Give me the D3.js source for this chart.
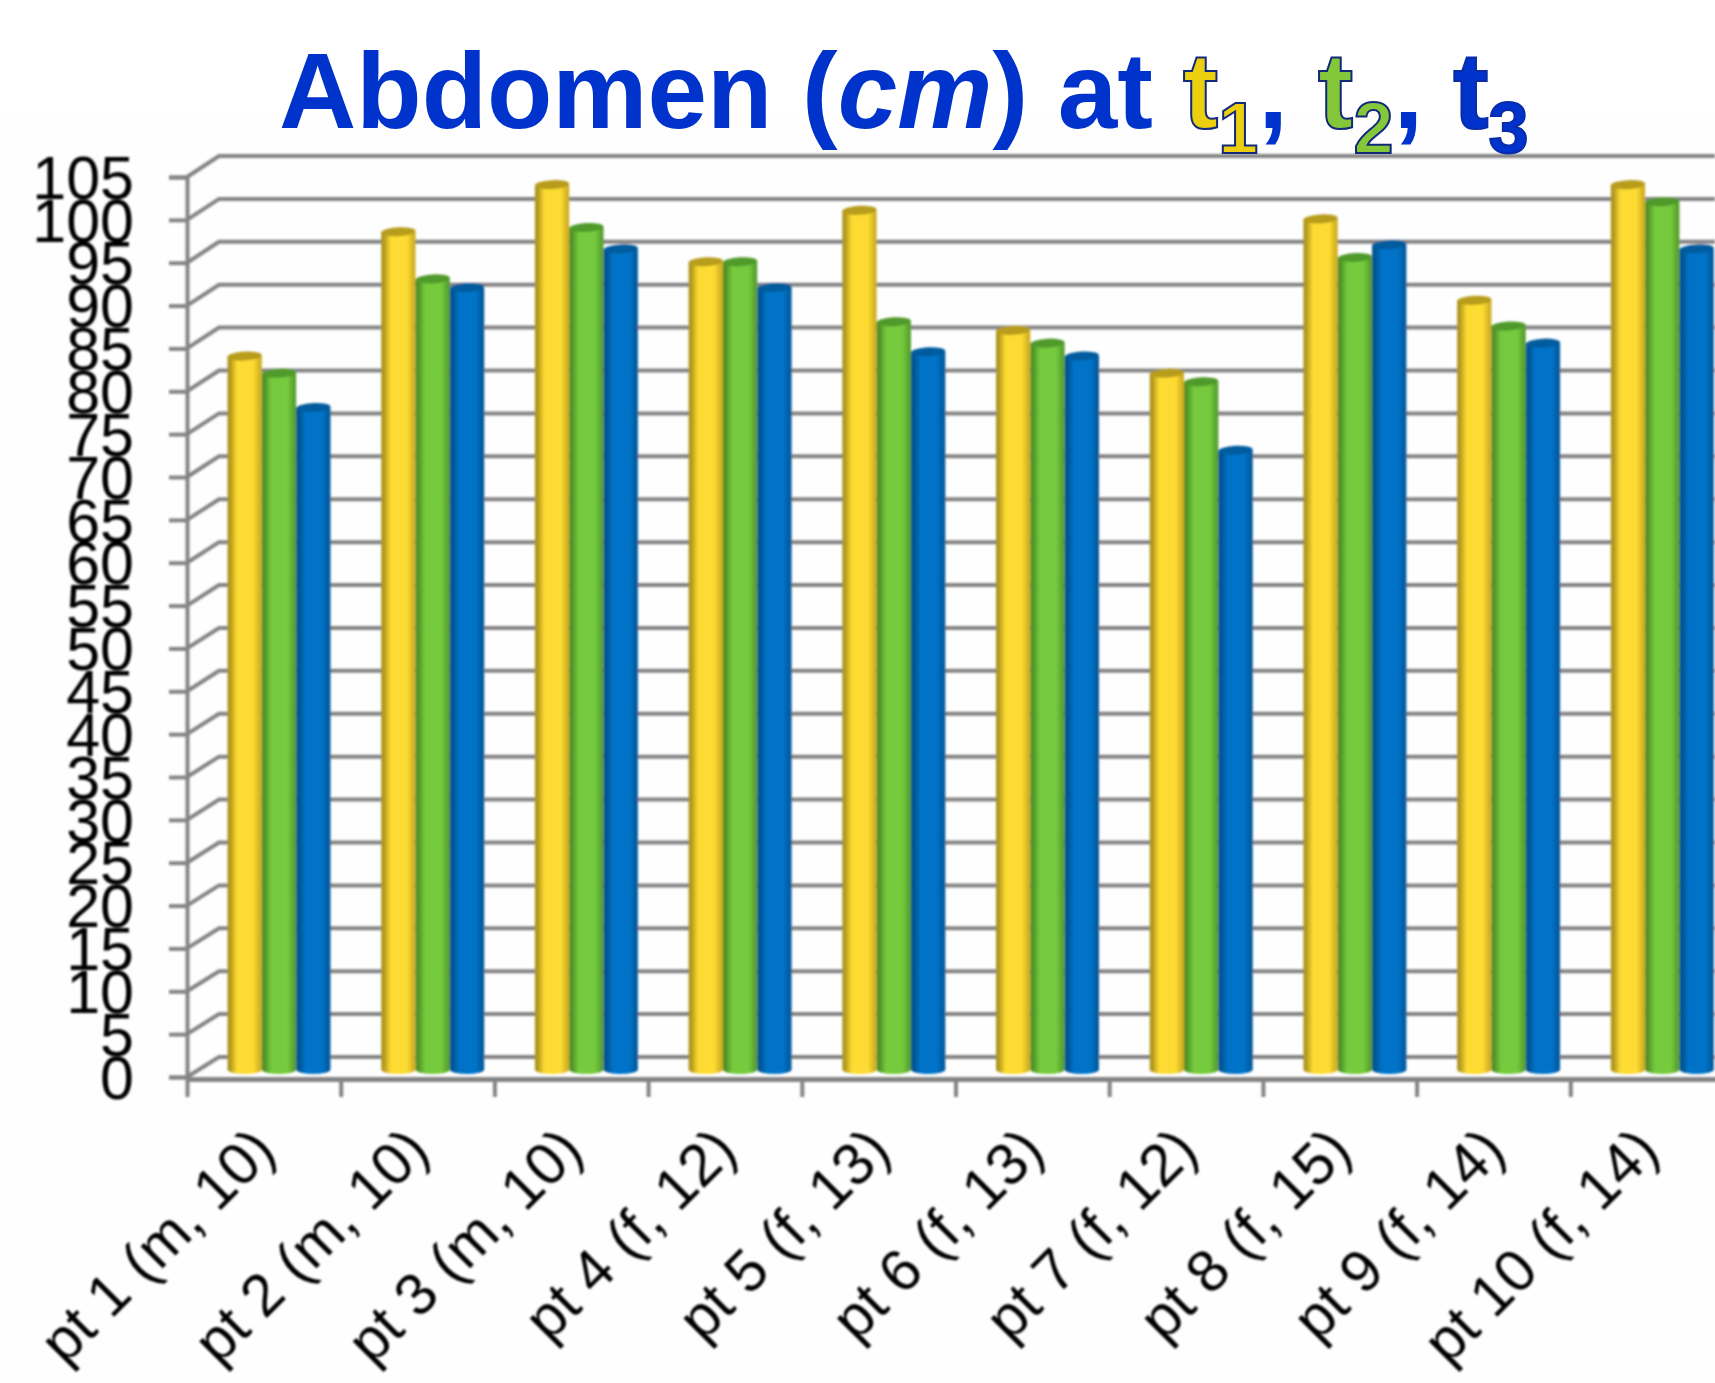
<!DOCTYPE html>
<html><head><meta charset="utf-8">
<script src="https://cdn.jsdelivr.net/npm/d3@7"></script>
<style>html,body{margin:0;padding:0;background:#fff;overflow:hidden}svg{display:block}</style>
</head><body><svg id="c" width="1715" height="1383"></svg>
<script>
const categories=["pt 1 (m, 10)","pt 2 (m, 10)","pt 3 (m, 10)","pt 4 (f, 12)","pt 5 (f, 13)","pt 6 (f, 13)","pt 7 (f, 12)","pt 8 (f, 15)","pt 9 (f, 14)","pt 10 (f, 14)"];
const t1=[83,97.5,103,94,100,86,81,99,89.5,103];
const t2=[81,92,98,94,87,84.5,80,94.5,86.5,101];
const t3=[77,91,95.5,91,83.5,83,72,96,84.5,95.5];
const seriesNames=["t1","t2","t3"];
const seriesValues=[t1,t2,t3];
const yTickValues=d3.range(0,106,5);
const palette={t1:["#ae951e","#fddb30","#cfae24","#b89c1e"],t2:["#4f8f28","#74ca3c","#579f2e","#4f9a2a"],t3:["#00528f","#0073c8","#005a9e","#005c9e"]};

const svg=d3.select("#c");
const W=1715;
const yFront=d3.scaleLinear().domain([0,105]).range([1077,177]);
const yWall=d3.scaleLinear().domain([0,105]).range([1057,156]);
const yBar=d3.scaleLinear().domain([0,105]).range([1067.5,167.5]);
const xIdx=d3.scaleLinear().domain([0,10]).range([187,1724]);
const xBand=d3.scaleBand().domain(categories).range([xIdx(0),xIdx(10)]);
const barX=d3.scaleBand().domain(seriesNames).range([40.5,40.5+103]);
const wallX=219;

const defs=svg.append("defs");
defs.append("filter").attr("id","soft").attr("x","-5%").attr("y","-5%").attr("width","110%").attr("height","110%")
  .append("feGaussianBlur").attr("stdDeviation",0.9);
seriesNames.forEach(s=>{
  const g=defs.append("linearGradient").attr("id","g"+s);
  const c=palette[s];
  [[0,c[0]],[0.07,c[0]],[0.28,c[1]],[0.75,c[1]],[0.95,c[2]],[1,c[2]]].forEach(([o,col])=>g.append("stop").attr("offset",o).attr("stop-color",col));
});

svg.append("rect").attr("x",0).attr("y",112).attr("width",W).attr("height",1271).attr("fill","#fefefe");

const chart=svg.append("g").attr("filter","url(#soft)");
const lineCol="#848484";
const grid=chart.append("g").attr("stroke",lineCol).attr("stroke-width",4).attr("fill","none");
grid.selectAll("path").data(yTickValues).join("path")
  .attr("d",d=>`M${xIdx(0)},${yFront(d)}L${wallX},${yWall(d)}L${W},${yWall(d)}`);

const axisY=d3.axisLeft(yFront).tickValues(yTickValues).tickSize(18).tickFormat("");
const gy=chart.append("g").attr("transform",`translate(${xIdx(0)},0)`).call(axisY);
gy.selectAll("line,path").attr("stroke",lineCol).attr("stroke-width",4);
const axisX=d3.axisBottom(xIdx).tickValues(d3.range(0,11)).tickSize(18).tickSizeOuter(0).tickFormat("");
const gx=chart.append("g").attr("transform","translate(0,1079)").call(axisX);
gx.selectAll("path").attr("stroke",lineCol).attr("stroke-width",5);
gx.selectAll("line").attr("stroke",lineCol).attr("stroke-width",4);

const w=barX.bandwidth(), ry=4.5, base=yBar(0)+2;
seriesNames.forEach((s,si)=>{
  const g=chart.append("g");
  const rows=categories.map((c,i)=>({c,v:seriesValues[si][i]}));
  const left=d=>xBand(d.c)+barX(s);
  g.selectAll("path").data(rows).join("path")
    .attr("fill",`url(#g${s})`)
    .attr("d",d=>`M${left(d)},${yBar(d.v)}L${left(d)+w},${yBar(d.v)}L${left(d)+w},${base}A${w/2},${ry} 0 0 1 ${left(d)},${base}Z`);
  g.selectAll("ellipse").data(rows).join("ellipse")
    .attr("fill",palette[s][3])
    .attr("cx",d=>left(d)+w/2).attr("cy",d=>yBar(d.v)).attr("rx",w/2).attr("ry",ry)
    .attr("transform",d=>`rotate(-3 ${left(d)+w/2} ${yBar(d.v)})`);
});

const labels=svg.append("g").attr("font-family","Liberation Sans, Arial, sans-serif").attr("fill","#000").attr("filter","url(#soft)");
labels.append("g").selectAll("text").data(yTickValues).join("text")
  .attr("text-anchor","end").attr("font-size",57).attr("dy","0.36em")
  .attr("transform",d=>`translate(134,${yFront(d)}) scale(1.07,1.06)`)
  .text(d=>d);
labels.append("g").selectAll("text").data(categories).join("text")
  .attr("text-anchor","end").attr("font-size",59)
  .attr("transform",d=>`translate(${xBand(d)+91},1153) rotate(-45)`)
  .text(d=>d);

const blue="#0033cc";
const title=svg.append("text").attr("font-family","Liberation Sans, Arial, sans-serif").attr("font-weight","bold").attr("font-size",107).attr("fill",blue).attr("x",279).attr("y",128);
title.append("tspan").text("Abdomen (");
title.append("tspan").attr("font-style","italic").text("cm");
title.append("tspan").text(") at ");
const tcols=["#ecd010","#84c83a","#0033cc"];
const tstroke=["#12287a","#12287a","#0a2ca8"];
seriesNames.forEach((s,i)=>{
  title.append("tspan").attr("fill",tcols[i]).attr("stroke",tstroke[i]).attr("stroke-width",2).text("t");
  title.append("tspan").attr("fill",tcols[i]).attr("stroke",tstroke[i]).attr("stroke-width",2).attr("font-size",72).attr("dy",25).text(s.slice(1));
  if(i<2) title.append("tspan").attr("dy",-25).text(", ");
});
</script></body></html>
